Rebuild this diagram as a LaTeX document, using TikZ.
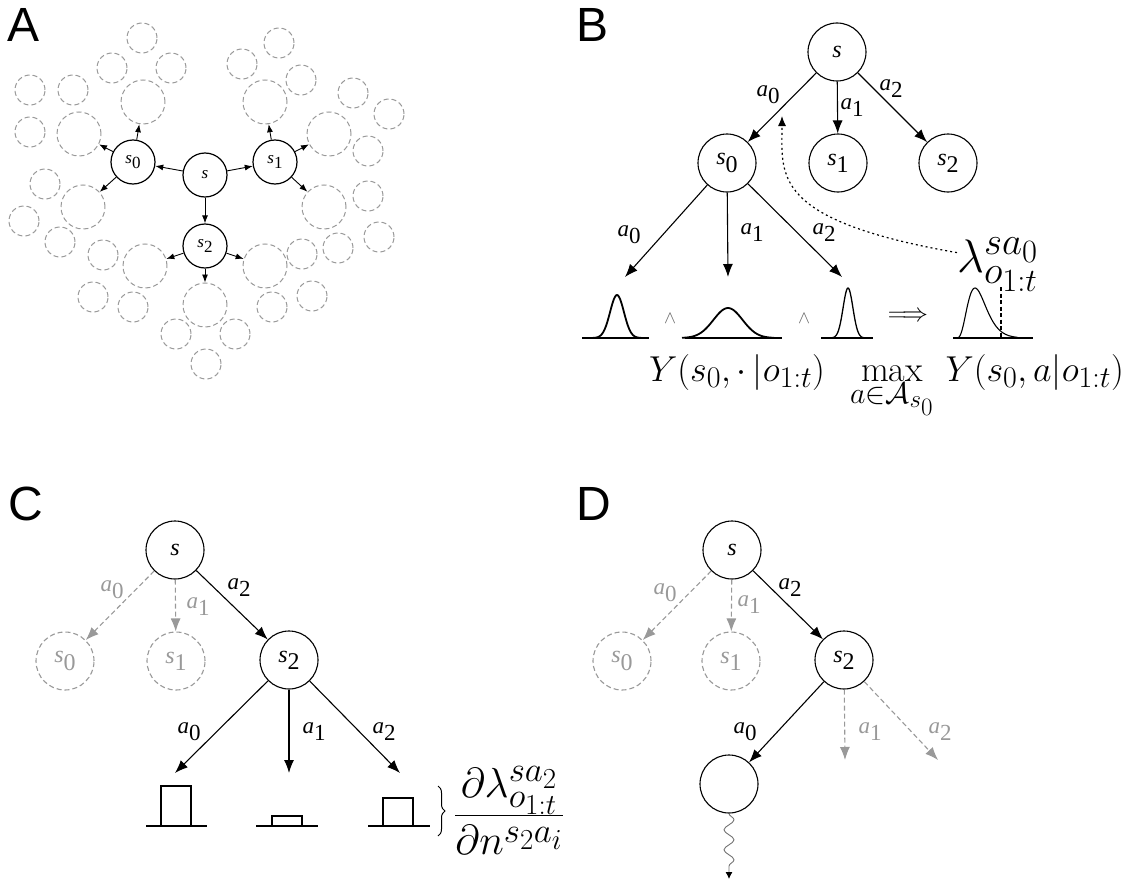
\RequirePackage{fix-cm}
\documentclass[tikz,border=0pt]{standalone}
\usepackage{fontspec}
\newfontfamily\tms{Liberation Serif}
\newfontfamily\hlv{Liberation Sans}
\usetikzlibrary{arrows.meta,decorations.pathreplacing,decorations.pathmorphing}
\definecolor{ghost}{gray}{0.6}
\DeclareMathSizes{47}{47}{39}{32.5}
\DeclareMathSizes{36}{36}{30}{25}
\DeclareMathSizes{42}{42}{35}{29}
\DeclareMathSizes{26}{26}{21.7}{18}
\DeclareMathSizes{18}{18}{15}{12.5}
\newcommand\itsub[2]{\textit{#1}\raisebox{-0.3em}{#2}}
\begin{document}
\begin{tikzpicture}[x=1pt,y=-1pt,
  panel/.style={font=\fontsize{48}{50}\selectfont\hlv, anchor=base west, inner sep=0},
  na/.style={circle, draw, line width=1.2pt, minimum size=44pt, inner sep=0, font=\fontsize{17}{20}\selectfont\tms},
  ga/.style={circle, draw=ghost, line width=1pt, dash pattern=on 5pt off 3pt, inner sep=0},
  gs/.style={ga, minimum size=30pt},
  gb/.style={ga, minimum size=44pt},
  arra/.style={-{Latex[length=8pt,width=6pt]}, line width=0.9pt},
  nb/.style={circle, draw, line width=1.1pt, minimum size=58pt, inner sep=0, font=\fontsize{24}{28}\selectfont\tms},
  nbg/.style={nb, draw=ghost, text=ghost, dash pattern=on 5pt off 3pt},
  arr/.style={-{Latex[length=13pt,width=10pt]}, line width=1.1pt},
  garr/.style={arr, draw=ghost, dash pattern=on 5pt off 3pt},
  lb/.style={font=\fontsize{23}{26}\selectfont\tms, inner sep=0},
  lbg/.style={lb, text=ghost},
  gauss/.style={line width=1.8pt},
  base/.style={line width=1.4pt},
  math/.style={anchor=base west, inner sep=0},
]
\useasboundingbox (0,0) rectangle (1128,883);

% ---------------- Panel A ----------------
\node[panel] (pA) at (7,42) {A};
\foreach \n/\p in {1/{142,38},2/{112,68},3/{171,68},4/{30,90},5/{73,90},6/{30,132},7/{45,184},8/{24,221},9/{60,242},
  10/{279,43},11/{242,64},12/{301,80},13/{353,93},14/{389,114},15/{368,151},16/{368,196},17/{379,237},18/{338,248},19/{302,254},
  20/{103,255},21/{93,297},22/{133,307},23/{272,307},24/{312,296},25/{176,334},26/{235,334},27/{206,364}}
  \node[gs] (gsm\n) at (\p) {};
\node[gb] (gA1) at (143,102) {};
\node[gb] (gA2) at (79,134) {};
\node[gb] (gA3) at (83,207) {};
\node[gb] (gB1) at (265,102) {};
\node[gb] (gB2) at (329,134) {};
\node[gb] (gB3) at (324,207) {};
\node[gb] (gC1) at (145,266) {};
\node[gb] (gC2) at (265,266) {};
\node[gb] (gC3) at (205,305) {};

\node[na] (As) at (205,175) {\textit{s}};
\node[na] (As0) at (133,162) {\itsub{s}{0}};
\node[na] (As1) at (275,162) {\itsub{s}{1}};
\node[na] (As2) at (205,246) {\itsub{s}{2}};
\draw[arra] (As) -- (As0);
\draw[arra] (As) -- (As1);
\draw[arra] (As) -- (As2);
\draw[arra] (As0) -- (gA1);
\draw[arra] (As0) -- (gA2);
\draw[arra] (As0) -- (gA3);
\draw[arra] (As1) -- (gB1);
\draw[arra] (As1) -- (gB2);
\draw[arra] (As1) -- (gB3);
\draw[arra] (As2) -- (gC1);
\draw[arra] (As2) -- (gC2);
\draw[arra] (As2) -- (gC3);

% ---------------- Panel B ----------------
\node[panel] (pB) at (576,42) {B};
\node[nb] (Bs) at (837,52) {\textit{s}};
\node[nb] (Bs0) at (727,163) {\itsub{s}{0}};
\node[nb] (Bs1) at (838,163) {\itsub{s}{1}};
\node[nb] (Bs2) at (948,163) {\itsub{s}{2}};
\draw[arr] (Bs) -- (Bs0);
\draw[arr] (Bs) -- (Bs1);
\draw[arr] (Bs) -- (Bs2);
\node[lb] (Bl0) at (768,95) {\itsub{a}{0}};
\node[lb] (Bl1) at (852,108) {\itsub{a}{1}};
\node[lb] (Bl2) at (891,89) {\itsub{a}{2}};

\coordinate (Bt0) at (625,277);
\coordinate (Bt1) at (728,277);
\coordinate (Bt2) at (842,277);
\draw[arr] (Bs0) -- (Bt0);
\draw[arr] (Bs0) -- (Bt1);
\draw[arr] (Bs0) -- (Bt2);
\node[lb] (Bm0) at (629,235) {\itsub{a}{0}};
\node[lb] (Bm1) at (752,233) {\itsub{a}{1}};
\node[lb] (Bm2) at (824,233) {\itsub{a}{2}};

% gaussians
\draw[base] (582,338) -- (649,338);
\draw[gauss] plot[domain=-28:28,samples=57,smooth] ({617+\x},{338-43*exp(-0.5*(\x/6.9)*(\x/6.9))});
\draw[base] (685,338) -- (782,338);
\draw[gauss] plot[domain=-46:46,samples=61,smooth] ({728+\x},{338-30*exp(-0.5*(\x/14.5)*(\x/14.5))});
\draw[base] (821,338) -- (873,338);
\draw[line width=1.3pt] plot[domain=-22:22,samples=57,smooth] ({848+\x},{338-50*exp(-0.5*(\x/4.9)*(\x/4.9))});
\draw[base] (953,338) -- (1033,338);
\draw[line width=1.1pt] plot[domain=0:76,samples=77,smooth] ({956+\x},{338-50*(\x/19)*(\x/19)*(\x/19)*(\x/19)*exp(4*(1-\x/19))});
\draw[line width=1.5pt, dash pattern=on 4pt off 2.5pt] (1001,287) -- (1001,338);
\node[font=\fontsize{18}{20}\selectfont, text=black!60, inner sep=0] (wedge1) at (670,318) {$\wedge$};
\node[font=\fontsize{18}{20}\selectfont, text=black!60, inner sep=0] (wedge2) at (804,318) {$\wedge$};
\node[font=\fontsize{26}{30}\selectfont, inner sep=0] (impl) at (908,317) {$\Longrightarrow$};

\node[math, font=\fontsize{47}{52}\selectfont] (lam) at (957,272) {$\lambda^{sa_0}_{o_{1:t}}$};
\coordinate (Bdot) at (782,116);
\draw[line width=1.2pt, dash pattern=on 2pt off 3pt, -{Latex[length=10pt,width=8pt]}]
  ([yshift=12pt]lam.west) .. controls (770,220) and (782,175) .. (Bdot);

\node[math, font=\fontsize{36}{42}\selectfont] (Ytxt) at (649,381) {$Y(s_0,\cdot\,|o_{1:t})$};
\node[math, font=\fontsize{36}{42}\selectfont] (Ymax) at (850,381) {$\displaystyle\max_{a\in\mathcal{A}_{s_0}}\, Y(s_0,a|o_{1:t})$};

% ---------------- Panel C ----------------
\node[panel] (pC) at (8,520) {C};
\node[nb] (Cs) at (175,550) {\textit{s}};
\node[nbg] (Cs0) at (65,661) {\itsub{s}{0}};
\node[nbg] (Cs1) at (176,661) {\itsub{s}{1}};
\node[nb] (Cs2) at (289,660) {\itsub{s}{2}};
\draw[garr] (Cs) -- (Cs0);
\draw[garr] (Cs) -- (Cs1);
\draw[arr] (Cs) -- (Cs2);
\node[lbg] (Cl0) at (112,590) {\itsub{a}{0}};
\node[lbg] (Cl1) at (198,607) {\itsub{a}{1}};
\node[lb] (Cl2) at (239,588) {\itsub{a}{2}};
\coordinate (Ct0) at (175,773);
\coordinate (Ct1) at (289,773);
\coordinate (Ct2) at (400,773);
\draw[arr] (Cs2) -- (Ct0);
\draw[arr] (Cs2) -- (Ct1);
\draw[arr] (Cs2) -- (Ct2);
\node[lb] (Cm0) at (189,732) {\itsub{a}{0}};
\node[lb] (Cm1) at (314,732) {\itsub{a}{1}};
\node[lb] (Cm2) at (384,732) {\itsub{a}{2}};
\draw[base] (146,826) -- (207,826);
\draw[base] (161,826) rectangle (191,786);
\draw[base] (256,826) -- (318,826);
\draw[base] (272,826) rectangle (302,816);
\draw[base] (368,826) -- (430,826);
\draw[base] (383,826) rectangle (413,798);
\draw[line width=1pt, decorate, decoration={brace, amplitude=7pt}] (438,786) -- (438,836);
\node[math, font=\fontsize{42}{48}\selectfont] (frac) at (454,826) {$\displaystyle\frac{\partial\lambda^{sa_2}_{o_{1:t}}}{\partial n^{s_2a_i}}$};

% ---------------- Panel D ----------------
\node[panel] (pD) at (576,520) {D};
\node[nb] (Ds) at (732,550) {\textit{s}};
\node[nbg] (Ds0) at (622,661) {\itsub{s}{0}};
\node[nbg] (Ds1) at (731,661) {\itsub{s}{1}};
\node[nb] (Ds2) at (844,660) {\itsub{s}{2}};
\node[nb] (DN) at (729,784) {};
\draw[garr] (Ds) -- (Ds0);
\draw[garr] (Ds) -- (Ds1);
\draw[arr] (Ds) -- (Ds2);
\node[lbg] (Dl0) at (665,593) {\itsub{a}{0}};
\node[lbg] (Dl1) at (749,605) {\itsub{a}{1}};
\node[lb] (Dl2) at (790,588) {\itsub{a}{2}};
\coordinate (Dt1) at (845,760);
\coordinate (Dt2) at (938,760);
\draw[arr] (Ds2) -- (DN);
\draw[garr] (Ds2) -- (Dt1);
\draw[garr] (Ds2) -- (Dt2);
\node[lb] (Dm0) at (745,732) {\itsub{a}{0}};
\node[lbg] (Dm1) at (870,732) {\itsub{a}{1}};
\node[lbg] (Dm2) at (940,732) {\itsub{a}{2}};
\coordinate (Dend) at (729,879);
\draw[black!55, line width=0.9pt, decorate, decoration={snake, amplitude=5pt, segment length=20pt, post length=8pt},
  -{Latex[length=7pt,width=7pt,color=black]}] (DN) -- (Dend);
\end{tikzpicture}
\end{document}
